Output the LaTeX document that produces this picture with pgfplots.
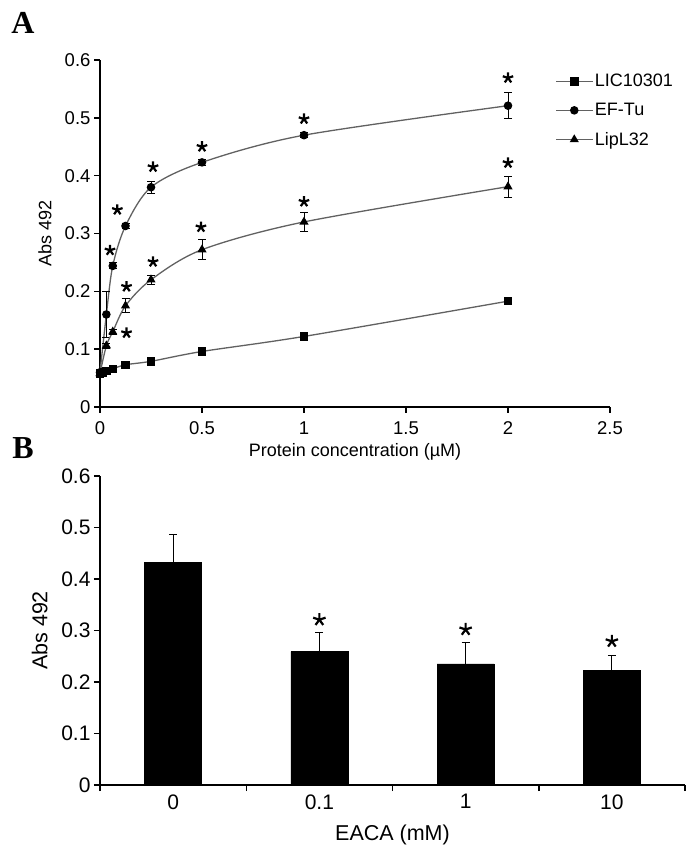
\documentclass[border=0pt]{standalone}
\usepackage{fontspec}
\setmainfont{Liberation Sans}
\newfontfamily\panelfont{Liberation Serif}
\usepackage{pgfplots}
\pgfplotsset{compat=1.18}

\definecolor{curve}{gray}{0.38}

\pgfplotsset{
  panel/.style={
    scale only axis, anchor=south west,
    axis x line*=bottom, axis y line*=left,
    axis line style={-, line width=1.8pt, black},
    tick align=outside, major tick length=6pt, minor tick length=6pt,
    tick style={line width=1.5pt, black},
    /pgf/number format/assume math mode=true,
    ymin=0, ymax=0.6, ytick={0,0.1,0.2,0.3,0.4,0.5,0.6},
    clip=false,
  },
  errcap/.style={
    error bars/error bar style={black, line width=1pt},
    error bars/error mark options={rotate=90, mark size=4pt, line width=1pt, black},
  },
  sig/.style={only marks, mark=star, mark size=6pt, line width=2.2pt, black},
}

\begin{document}
\begin{tikzpicture}[x=1pt,y=1pt]
\path[use as bounding box] (0,0) rectangle (696,854);
\node[font=\panelfont\bfseries\fontsize{32}{34}\selectfont] at (23,831) {A};
\node[font=\panelfont\bfseries\fontsize{32}{34}\selectfont] at (23,406) {B};

% ---- panel A: binding curves
\begin{axis}[panel,
  at={(100pt,447pt)}, width=510pt, height=347pt,
  xmin=0, xmax=2.5, xtick={0,0.5,1,1.5,2,2.5},
  ticklabel style={font=\fontsize{18.5}{20}\selectfont},
  xticklabel style={yshift=-5pt},
  xlabel={Protein concentration (µM)}, ylabel={Abs 492},
  label style={font=\fontsize{18}{20}\selectfont},
  xlabel style={at={(axis description cs:0.5,-0.13)}, anchor=center},
  ylabel style={at={(axis description cs:-0.108,0.5)}, anchor=center},
  legend style={at={(axis description cs:0.893,0.965)}, anchor=north west,
    draw=none, fill=none, inner sep=0pt, row sep=11pt,
    font=\fontsize{18}{20}\selectfont},
  legend cell align=left,
  legend image code/.code={\draw[mark repeat=2, mark phase=2, #1]
    plot coordinates {(0pt,0pt) (18pt,0pt) (36pt,0pt)};},
]
\addplot[curve, line width=1.3pt, smooth, mark=square*, mark size=3.6pt,
  mark options={solid, fill=black, draw=black}] coordinates {
  (0,0.058) (0.015625,0.060) (0.03125,0.062) (0.0625,0.066) (0.125,0.073)
  (0.25,0.079) (0.5,0.096) (1,0.122) (2,0.183)
};
\addlegendentry{LIC10301}
\addplot[curve, line width=1.3pt, smooth, mark=*, mark size=3.6pt,
  mark options={solid, fill=black, draw=black}, errcap,
  error bars/.cd, y dir=both, y explicit] table[y error=e] {
  x y e
  0 0.060 0
  0.03125 0.160 0.040
  0.0625 0.244 0.005
  0.125 0.313 0.004
  0.25 0.380 0.010
  0.5 0.423 0.005
  1 0.470 0.004
  2 0.521 0.022
};
\addlegendentry{EF-Tu}
\addplot[curve, line width=1.3pt, smooth, mark=triangle*, mark size=4pt,
  mark options={solid, fill=black, draw=black}, errcap,
  error bars/.cd, y dir=both, y explicit] table[y error=e] {
  x y e
  0 0.058 0
  0.03125 0.106 0.004
  0.0625 0.130 0.004
  0.125 0.175 0.012
  0.25 0.220 0.008
  0.5 0.272 0.017
  1 0.320 0.016
  2 0.381 0.018
};
\addlegendentry{LipL32}
% significance stars
\addplot[forget plot, sig, mark size=5.5pt] coordinates {
  (0.049,0.271) (0.085,0.341) (0.26,0.415) (0.5,0.450) (1,0.498) (2,0.569)
  (0.13,0.208) (0.13,0.128) (0.26,0.251) (0.495,0.311) (1,0.355) (2,0.422)
};
\end{axis}

% ---- panel B: EACA inhibition
\begin{axis}[panel,
  at={(100pt,69pt)}, width=585pt, height=309pt,
  xmin=-0.5, xmax=3.5,
  xtick={0,1,2,3}, xticklabels={0,0.1,1,10},
  major x tick style={draw=none},
  minor xtick={-0.5,0.5,1.5,2.5,3.5},
  ticklabel style={font=\fontsize{21}{23}\selectfont},
  xlabel={EACA (mM)}, ylabel={Abs 492},
  label style={font=\fontsize{21.5}{23}\selectfont},
  xlabel style={at={(axis description cs:0.5,-0.162)}, anchor=center},
  ylabel style={at={(axis description cs:-0.103,0.5)}, anchor=center},
]
\addplot[ybar, bar width=57pt, bar shift=0pt, fill=black, draw=black, errcap,
  error bars/.cd, y dir=plus, y explicit] table[y error=e] {
  x y e
  0 0.433 0.053
  1 0.259 0.038
  2 0.235 0.042
  3 0.222 0.030
};
\addplot[sig, mark size=6.5pt] coordinates {(1,0.321) (2,0.302) (3,0.279)};
\end{axis}
\end{tikzpicture}
\end{document}
